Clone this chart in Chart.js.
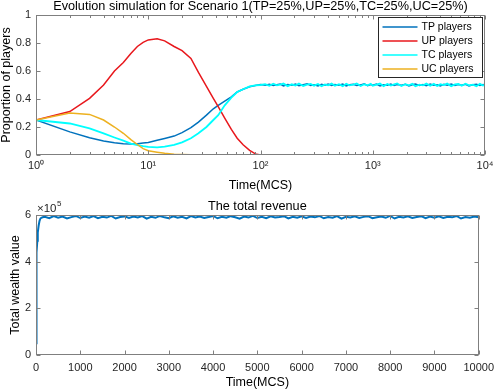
<!DOCTYPE html>
<html>
<head>
<meta charset="utf-8">
<script src="https://cdn.jsdelivr.net/npm/chart.js@4.4.0/dist/chart.umd.min.js"></script>
<style>
  html, body { margin: 0; padding: 0; background: #fff; }
  #wrap { position: relative; width: 500px; height: 391px; }
  .pane { position: absolute; left: 0; width: 500px; }
</style>
</head>
<body>
<div id="wrap">
  <div class="pane" style="top:0;height:195px"><canvas id="shareChart"></canvas></div>
  <div class="pane" style="top:195px;height:196px"><canvas id="wealthChart"></canvas></div>
</div>
<script>
// ---- top panel: share of each player type (log time axis) ----
const earlyTime = [1,2,3,4,5,6,7,8,9,10,12,14,17,20,24,28,33,38,42,48,55,62,70,80,90];
const tpEarly = [0.25,0.165,0.123,0.10,0.088,0.081,0.078,0.08,0.085,0.09,0.105,0.118,0.135,0.16,0.195,0.235,0.285,0.33,0.355,0.385,0.415,0.45,0.47,0.487,0.497];
const upEarly = [0.25,0.31,0.405,0.50,0.60,0.66,0.725,0.775,0.805,0.822,0.830,0.815,0.775,0.745,0.69,0.59,0.49,0.405,0.345,0.263,0.183,0.12,0.073,0.033,0.008];
const tcEarly = [0.25,0.225,0.19,0.155,0.125,0.102,0.082,0.07,0.063,0.058,0.055,0.06,0.072,0.09,0.12,0.155,0.20,0.25,0.284,0.355,0.41,0.45,0.47,0.49,0.497];
const ucEarly = [0.25,0.30,0.29,0.25,0.20,0.155,0.11,0.075,0.045,0.03,0.02,0.012,0.006,0.003,0.001,0,0,0,0,0,0,0,0,0,0];

const lateTime = [100,110,120,130,140,150,160,175,
  190,205,220,240,260,280,300,325,
  350,375,400,430,460,500,540,580,
  620,670,720,780,840,900,960,1000,
  1080,1160,1250,1350,1450,1550,1650,1800,
  1950,2100,2250,2400,2600,2800,3000,3250,
  3500,3750,4000,4300,4600,5000,5400,5800,
  6200,6700,7200,7800,8400,9000,9600,10000];
const tpLate = [0.503,0.498,0.505,0.496,0.502,0.507,0.494,0.503,
  0.499,0.506,0.495,0.502,0.508,0.497,0.501,0.494,
  0.505,0.499,0.507,0.496,0.503,0.498,0.506,0.493,
  0.502,0.505,0.497,0.501,0.508,0.495,0.503,0.499,
  0.506,0.494,0.502,0.498,0.507,0.496,0.504,0.499,
  0.505,0.493,0.502,0.507,0.497,0.503,0.495,0.506,
  0.499,0.502,0.494,0.505,0.498,0.507,0.496,0.503,
  0.499,0.505,0.494,0.502,0.506,0.497,0.503,0.499];
const tcLate = [0.500,0.506,0.494,0.509,0.497,0.503,0.510,0.492,
  0.505,0.496,0.511,0.493,0.502,0.508,0.495,0.507,
  0.491,0.504,0.498,0.510,0.494,0.506,0.492,0.509,
  0.497,0.503,0.511,0.493,0.505,0.498,0.509,0.494,
  0.502,0.510,0.492,0.507,0.496,0.504,0.511,0.493,
  0.506,0.498,0.509,0.491,0.503,0.497,0.510,0.495,
  0.508,0.493,0.505,0.499,0.511,0.492,0.504,0.507,
  0.494,0.509,0.497,0.503,0.491,0.508,0.496,0.502];
const tailTime = [100, 10000];
const upTail = [0, 0];
const ucTail = [0, 0];

const seriesNames = ['TP players','UP players','TC players','UC players'];
const seriesColors = ['#0072BD','#E8171C','#00FFFF','#EDB120'];

// ---- bottom panel: total wealth (units of 1e5) ----
const wealthTime = [0,5,10,20,30,40,60,80,100,120,150,
  200,300,400,500,600,700,800,900,1000,
  1100,1200,1300,1400,1500,1600,1700,1800,1900,2000,
  2100,2200,2300,2400,2500,2600,2700,2800,2900,3000,
  3100,3200,3300,3400,3500,3600,3700,3800,3900,4000,
  4100,4200,4300,4400,4500,4600,4700,4800,4900,5000,
  5100,5200,5300,5400,5500,5600,5700,5800,5900,6000,
  6100,6200,6300,6400,6500,6600,6700,6800,6900,7000,
  7100,7200,7300,7400,7500,7600,7700,7800,7900,8000,
  8100,8200,8300,8400,8500,8600,8700,8800,8900,9000,
  9100,9200,9300,9400,9500,9600,9700,9800,9900,10000];
const wealthValue = [0.5,2.2,3.6,4.4,4.9,5.25,5.55,5.75,5.85,5.88,5.9,
  5.92,5.86,5.95,5.88,5.93,5.85,5.91,5.96,5.87,
  5.93,5.88,5.95,5.86,5.92,5.89,5.96,5.85,5.91,5.94,
  5.87,5.93,5.89,5.95,5.84,5.92,5.88,5.96,5.9,5.86,
  5.94,5.88,5.92,5.85,5.95,5.89,5.93,5.87,5.91,5.96,
  5.86,5.92,5.88,5.95,5.9,5.84,5.93,5.89,5.96,5.87,
  5.92,5.86,5.94,5.89,5.91,5.95,5.85,5.92,5.88,5.94,
  5.87,5.93,5.9,5.96,5.86,5.91,5.88,5.95,5.84,5.92,
  5.89,5.94,5.87,5.92,5.95,5.86,5.9,5.93,5.88,5.96,
  5.85,5.92,5.89,5.94,5.87,5.91,5.95,5.86,5.93,5.88,
  5.94,5.87,5.92,5.9,5.96,5.85,5.91,5.88,5.93,5.9];

const logTicks = [1, 10, 100, 1000, 10000];
const sup = ['\u2070','\u00B9','\u00B2','\u00B3','\u2074','\u2075'];

Chart.defaults.font.family = '"Liberation Sans", Arial, sans-serif';
Chart.defaults.color = '#262626';

function pts(xs, ys) {
  return xs.map((x, i) => ({x: x, y: ys[i]}));
}

// box with inward ticks, matlab style
const boxPlugin = {
  id: 'box',
  afterDatasetsDraw(chart, args, opts) {
    const {ctx, chartArea: a, scales} = chart;
    const xs = scales.x, ys = scales.y;
    ctx.save();
    ctx.strokeStyle = '#7f7f7f';
    ctx.lineWidth = 1;
    const l = Math.round(a.left) + 0.5, r = Math.round(a.right) - 0.5;
    const t = Math.round(a.top) + 0.5, b = Math.round(a.bottom) - 0.5;
    ctx.strokeRect(l, t, r - l, b - t);
    ctx.beginPath();
    (opts.xMajor || []).forEach(v => {
      const p = Math.round(xs.getPixelForValue(v)) + 0.5;
      ctx.moveTo(p, b); ctx.lineTo(p, b - 4);
      ctx.moveTo(p, t); ctx.lineTo(p, t + 4);
    });
    (opts.xMinor || []).forEach(v => {
      const p = Math.round(xs.getPixelForValue(v)) + 0.5;
      ctx.moveTo(p, b); ctx.lineTo(p, b - 2.5);
      ctx.moveTo(p, t); ctx.lineTo(p, t + 2.5);
    });
    (opts.yMajor || []).forEach(v => {
      const p = Math.round(ys.getPixelForValue(v)) + 0.5;
      ctx.moveTo(l, p); ctx.lineTo(l + 4, p);
      ctx.moveTo(r, p); ctx.lineTo(r - 4, p);
    });
    ctx.stroke();
    ctx.restore();
  }
};

const legendBox = {
  id: 'legendBox',
  afterDraw(chart, args, opts) {
    if (!opts.show) return;
    const {ctx, chartArea: a} = chart;
    const w = 104, h = 60;
    const x0 = Math.round(a.right) - 3 - w + 0.5, y0 = Math.round(a.top) + 2 + 0.5;
    ctx.save();
    ctx.fillStyle = '#fff';
    ctx.fillRect(x0, y0, w, h);
    ctx.strokeStyle = '#262626';
    ctx.lineWidth = 1;
    ctx.strokeRect(x0, y0, w, h);
    ctx.font = '10.5px "Liberation Sans", Arial, sans-serif';
    ctx.textBaseline = 'middle';
    ctx.fillStyle = '#000';
    chart.data.datasets.forEach((ds, i) => {
      const yy = y0 + 9.5 + i * 14;
      ctx.strokeStyle = ds.borderColor;
      ctx.lineWidth = 1.5;
      ctx.beginPath();
      ctx.moveTo(x0 + 4, yy); ctx.lineTo(x0 + 39, yy);
      ctx.stroke();
      ctx.fillText(ds.label, x0 + 43, yy + 0.5);
    });
    ctx.restore();
  }
};

const expLabel = {
  id: 'expLabel',
  afterDraw(chart, args, opts) {
    if (!opts.show) return;
    const {ctx, chartArea: a} = chart;
    ctx.save();
    ctx.fillStyle = '#262626';
    ctx.textBaseline = 'alphabetic';
    ctx.font = '11.5px "Liberation Sans", Arial, sans-serif';
    ctx.fillText('\u00D710', a.left + 1, a.top - 3);
    const w = ctx.measureText('\u00D710').width;
    ctx.font = '8px "Liberation Sans", Arial, sans-serif';
    ctx.fillText('5', a.left + 1 + w + 0.5, a.top - 9);
    ctx.restore();
  }
};

const minorLog = [];
for (let d = 1; d < 10000; d *= 10) {
  for (let k = 2; k < 10; k++) minorLog.push(k * d);
}

const shareData = [
  pts(earlyTime, tpEarly).concat(pts(lateTime, tpLate)),
  pts(earlyTime, upEarly).concat(pts(tailTime, upTail)),
  pts(earlyTime, tcEarly).concat(pts(lateTime, tcLate)),
  pts(earlyTime, ucEarly).concat(pts(tailTime, ucTail))
];
const drawOrder = [3, 2, 1, 0];
const lineWidths = [1.5, 1.5, 1.8, 1.5];

new Chart(document.getElementById('shareChart'), {
  type: 'line',
  data: {
    datasets: seriesNames.map((name, i) => ({
      label: name,
      data: shareData[i],
      borderColor: seriesColors[i],
      backgroundColor: seriesColors[i],
      borderWidth: lineWidths[i],
      pointRadius: 0,
      tension: 0,
      order: drawOrder[i]
    }))
  },
  options: {
    responsive: true,
    maintainAspectRatio: false,
    animation: false,
    layout: { padding: { left: 0, right: 15, top: 0, bottom: 0 } },
    plugins: {
      legend: { display: false },
      tooltip: { enabled: false },
      title: {
        display: true,
        fullSize: false,
        text: 'Evolution simulation for Scenario 1(TP=25%,UP=25%,TC=25%,UC=25%)',
        color: '#000',
        font: { size: 12.7, weight: 'normal', lineHeight: 1 },
        padding: { top: 0, bottom: 2.3 }
      },
      box: { xMajor: logTicks, xMinor: minorLog, yMajor: [0, 0.2, 0.4, 0.6, 0.8, 1] },
      legendBox: { show: true }
    },
    scales: {
      x: {
        type: 'logarithmic',
        min: 1,
        max: 10000,
        grid: { display: false, drawTicks: false },
        border: { display: false },
        afterBuildTicks: s => { s.ticks = logTicks.map(v => ({ value: v })); },
        afterFit: s => { s.height = 40; },
        ticks: {
          autoSkip: false,
          maxRotation: 0,
          padding: 4,
          font: { size: 11 },
          callback: v => '10' + sup[Math.round(Math.log10(v))]
        },
        title: {
          display: true,
          text: 'Time(MCS)',
          color: '#000',
          font: { size: 12.5, lineHeight: 1 },
          padding: { top: 0, bottom: 3 }
        }
      },
      y: {
        min: 0,
        max: 1,
        grid: { display: false, drawTicks: false },
        border: { display: false },
        afterFit: s => { s.width = 36; },
        ticks: { stepSize: 0.2, padding: 5, font: { size: 11 }, callback: v => String(+v.toFixed(1)) },
        title: {
          display: true,
          text: 'Proportion of players',
          color: '#000',
          font: { size: 12.5, lineHeight: 1 },
          padding: { top: 0, bottom: 0 }
        }
      }
    }
  },
  plugins: [boxPlugin, legendBox]
});

new Chart(document.getElementById('wealthChart'), {
  type: 'line',
  data: {
    datasets: [{
      label: 'Total wealth',
      data: pts(wealthTime, wealthValue),
      borderColor: '#0072BD',
      borderWidth: 2,
      pointRadius: 0,
      tension: 0
    }]
  },
  options: {
    responsive: true,
    maintainAspectRatio: false,
    animation: false,
    layout: { padding: { left: 0, right: 15, top: 0, bottom: 0 } },
    plugins: {
      legend: { display: false },
      tooltip: { enabled: false },
      title: {
        display: true,
        fullSize: false,
        text: 'The total revenue',
        color: '#000',
        font: { size: 12.7, weight: 'normal', lineHeight: 1 },
        padding: { top: 5, bottom: 2.3 }
      },
      box: { xMajor: [0,1000,2000,3000,4000,5000,6000,7000,8000,9000,10000], yMajor: [0, 2, 4, 6] },
      expLabel: { show: true }
    },
    scales: {
      x: {
        type: 'linear',
        min: 0,
        max: 10000,
        grid: { display: false, drawTicks: false },
        border: { display: false },
        afterFit: s => { s.height = 36; },
        ticks: {
          stepSize: 1000,
          autoSkip: false,
          maxRotation: 0,
          padding: 6,
          font: { size: 11 },
          callback: v => String(v)
        },
        title: {
          display: true,
          text: 'Time(MCS)',
          color: '#000',
          font: { size: 12.5, lineHeight: 1 },
          padding: { top: 0, bottom: 2 }
        }
      },
      y: {
        min: 0,
        max: 6,
        grid: { display: false, drawTicks: false },
        border: { display: false },
        afterFit: s => { s.width = 36; },
        ticks: { stepSize: 2, padding: 5, font: { size: 11 } },
        title: {
          display: true,
          text: 'Total wealth value',
          color: '#000',
          font: { size: 12.5, lineHeight: 1 },
          padding: { top: 9, bottom: 0 }
        }
      }
    }
  },
  plugins: [boxPlugin, expLabel]
});
</script>
</body>
</html>
